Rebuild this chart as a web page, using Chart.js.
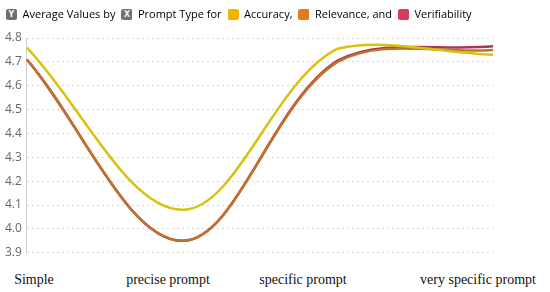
<!DOCTYPE html>
<html>
<head>
<meta charset="utf-8">
<script src="https://cdn.jsdelivr.net/npm/chart.js@4"></script>
<style>
    body { margin: 0; background: #fff; }
    #wrap { position: relative; width: 550px; height: 292px; }
    #chart-box { position: absolute; left: 0; top: 0; width: 550px; height: 265px; }
    .xlab { position: absolute; top: 272px; font: 14px "Liberation Serif", serif; color: #111; transform: translateX(-50%); white-space: nowrap; }
</style>
</head>
<body>
<div id="wrap">
    <div id="chart-box"><canvas id="promptChart"></canvas></div>
</div>
<script>
    // categories on the x axis
    const promptTypes = ['Simple', 'precise prompt', 'specific prompt', 'very specific prompt'];

    // average values per prompt type
    const accuracy = [4.76, 4.08, 4.755, 4.73];
    const relevance = [4.71, 3.95, 4.70, 4.75];
    const verifiability = [4.71, 3.95, 4.705, 4.765];

    const yTicks = [3.9, 4.0, 4.1, 4.2, 4.3, 4.4, 4.5, 4.6, 4.7, 4.8];

    // legend text (first two are axis hints, last three are the series)
    const legendTexts = ['Average Values by', 'Prompt Type for', 'Accuracy,', 'Relevance, and', 'Verifiability'];

    // where the serif category labels sit under the plot
    const labelCenters = [34, 168, 303, 478];

    function makeBox(color, letter) {
        const c = document.createElement('canvas');
        c.width = 11; c.height = 11;
        const g = c.getContext('2d');
        g.fillStyle = color;
        g.beginPath();
        g.roundRect(0, 0, 11, 11, 2);
        g.fill();
        if (letter) {
            g.fillStyle = '#fff';
            g.font = 'bold 8px "DejaVu Sans", sans-serif';
            g.textAlign = 'center';
            g.textBaseline = 'middle';
            g.fillText(letter, 5.5, 6);
        }
        return c;
    }

    const legendBoxes = [
        makeBox('#6f6f6f', 'Y'),
        makeBox('#6f6f6f', 'X'),
        makeBox('#f2b200'),
        makeBox('#e07a1f'),
        makeBox('#d63a5c')
    ];

    // adds space between the legend row and the plot
    const legendGap = {
        id: 'legendGap',
        beforeInit: function (chart) {
            const fit = chart.legend.fit;
            chart.legend.fit = function () {
                fit.bind(chart.legend)();
                this.height += 8;
            };
        }
    };

    const ctx = document.getElementById('promptChart');
    new Chart(ctx, {
        type: 'line',
        data: {
            labels: promptTypes,
            datasets: [
                { label: 'Accuracy', data: accuracy, borderColor: '#d9c20c', borderWidth: 2.5, pointRadius: 0, tension: 0.35, fill: false },
                { label: 'Relevance', data: relevance, borderColor: '#c2712c', borderWidth: 2.5, pointRadius: 0, tension: 0.35, fill: false },
                { label: 'Verifiability', data: verifiability, borderColor: '#a8384c', borderWidth: 2.5, pointRadius: 0, tension: 0.35, fill: false }
            ]
        },
        options: {
            responsive: true,
            maintainAspectRatio: false,
            animation: false,
            layout: { padding: { left: 0, right: 0, top: 3, bottom: 2 } },
            plugins: {
                tooltip: { enabled: false },
                legend: {
                    position: 'top',
                    align: 'start',
                    onClick: null,
                    labels: {
                        usePointStyle: true,
                        boxWidth: 11,
                        boxHeight: 11,
                        padding: 6,
                        color: '#333',
                        font: { family: '"Open Sans", sans-serif', size: 11 },
                        generateLabels: function () {
                            return legendTexts.map(function (t, i) {
                                return { text: t, pointStyle: legendBoxes[i], fillStyle: 'transparent', strokeStyle: 'transparent', lineWidth: 0, hidden: false, index: i };
                            });
                        }
                    }
                }
            },
            scales: {
                x: {
                    ticks: { display: false },
                    grid: { display: false },
                    border: { display: false }
                },
                y: {
                    min: 3.9,
                    max: 4.8,
                    afterBuildTicks: function (axis) {
                        axis.ticks = yTicks.map(function (v) { return { value: v }; });
                    },
                    ticks: {
                        color: '#666',
                        padding: 5,
                        font: { family: '"Open Sans", sans-serif', size: 12 },
                        callback: function (v) { return Number(v).toFixed(1); }
                    },
                    grid: { color: '#d9d9d9', tickLength: 0 },
                    border: { display: true, color: '#cfcfcf', dash: [2, 3] }
                },
                // empty right axis keeps the plot clear of the right margin
                yRight: {
                    position: 'right',
                    min: 3.9,
                    max: 4.8,
                    ticks: { display: false },
                    grid: { display: false },
                    border: { display: false },
                    afterFit: function (axis) { axis.width = 57; }
                }
            }
        },
        plugins: [legendGap]
    });

    // serif category labels under the chart
    const wrap = document.getElementById('wrap');
    promptTypes.forEach(function (name, i) {
        const el = document.createElement('div');
        el.className = 'xlab';
        el.style.left = labelCenters[i] + 'px';
        el.textContent = name;
        wrap.appendChild(el);
    });
</script>
</body>
</html>
